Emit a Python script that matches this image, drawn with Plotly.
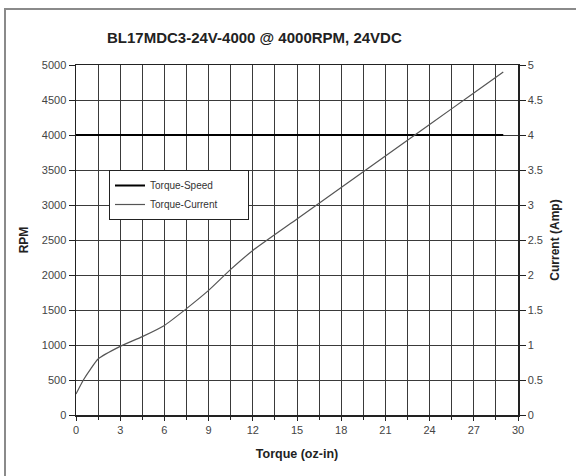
import plotly.graph_objects as go

# Data
speed_torque = [0, 29]
speed_rpm = [4000, 4000]

current_torque = [0, 0.5, 1, 1.5, 3, 4.5, 6, 7.5, 9, 10.5, 12, 15, 18, 21, 24, 27, 29]
current_amp = [0.3, 0.5, 0.66, 0.8, 0.98, 1.12, 1.28, 1.52, 1.78, 2.08, 2.35, 2.8, 3.25, 3.7, 4.15, 4.6, 4.9]

title = "BL17MDC3-24V-4000 @ 4000RPM, 24VDC"
legend_pad = "\u00a0" * 9

W, H = 576, 476
L, R, T, B = 76, 58, 65, 61
pw, ph = W - L - R, H - T - B

def px(x):
    return (x - L) / pw

def py(y):
    return (H - B - y) / ph

FONT = "Liberation Sans, Arial, sans-serif"
GRID = "#3a3a3a"

fig = go.Figure()
fig.add_trace(go.Scatter(x=speed_torque, y=speed_rpm, mode="lines", name="Torque-Speed" + legend_pad,
                         line=dict(color="black", width=2)))
fig.add_trace(go.Scatter(x=current_torque, y=current_amp, mode="lines", name="Torque-Current" + legend_pad,
                         line=dict(color="#555555", width=1.2, shape="spline", smoothing=0.5),
                         yaxis="y2"))

fig.update_layout(
    width=W, height=H,
    margin=dict(l=L, r=R, t=T, b=B, autoexpand=False),
    paper_bgcolor="white", plot_bgcolor="white",
    font=dict(family=FONT, size=10, color="#333"),
    showlegend=True,
    legend=dict(x=px(109), y=py(170), xanchor="left", yanchor="top",
                bgcolor="white", bordercolor="#222", borderwidth=1,
                font=dict(size=10, color="#333"), itemwidth=30, tracegroupgap=2),
    xaxis=dict(range=[0, 30], dtick=3, tick0=0, showgrid=True, gridcolor=GRID, gridwidth=1,
               minor=dict(dtick=1.5, tick0=0, showgrid=True, gridcolor=GRID, gridwidth=1,
                          ticks="outside", ticklen=3, tickcolor="#222"),
               showline=True, linecolor="#222", linewidth=1.5, mirror=True,
               ticks="outside", ticklen=4, tickcolor="#222", zeroline=False, automargin=False,
               tickfont=dict(size=11, color="#444"),
               title=dict(text="<b>Torque (oz-in)</b>", font=dict(size=12.5, color="#222"), standoff=14)),
    yaxis=dict(range=[0, 5000], dtick=500, showgrid=True, gridcolor=GRID, gridwidth=1,
               showline=True, linecolor="#222", linewidth=1.5, mirror=True,
               ticks="outside", ticklen=6, tickcolor="#222", zeroline=False, automargin=False,
               tickfont=dict(size=11, color="#444"),
               title=dict(text="<b>RPM</b>", font=dict(size=12, color="#222"), standoff=10)),
    yaxis2=dict(range=[0, 5], dtick=0.5, overlaying="y", side="right", showgrid=False,
                ticks="outside", ticklen=6, tickcolor="#222", zeroline=False, automargin=False,
                showline=True, linecolor="#222", linewidth=1.5,
                tickfont=dict(size=11, color="#444"),
                title=dict(text="<b>Current (Amp)</b>", font=dict(size=12, color="#222"), standoff=8)),
    shapes=[dict(type="rect", xref="paper", yref="paper",
                 x0=px(5), x1=px(590), y0=py(490), y1=py(9),
                 line=dict(color="#8a8a8a", width=2), fillcolor="rgba(0,0,0,0)", layer="below")],
    annotations=[dict(text="<b>" + title + "</b>", xref="paper", yref="paper",
                      x=px(254), y=py(38), xanchor="center", yanchor="middle",
                      showarrow=False, font=dict(size=15, color="#222"))],
)

fig.write_html("out.html",
               config={"displayModeBar": False, "staticPlot": True},
               post_script="document.body.style.margin='0px';document.body.style.overflow='hidden';")
